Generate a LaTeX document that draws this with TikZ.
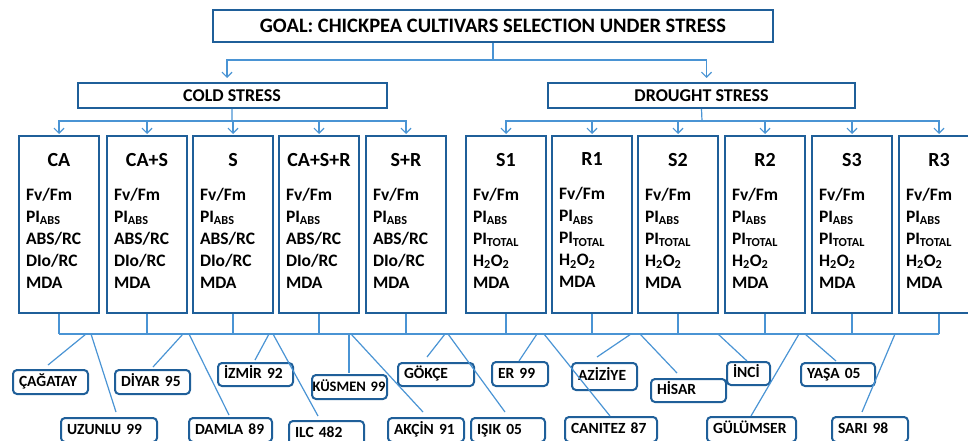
\documentclass[tikz,border=0pt]{standalone}
\usepackage{fontspec}
\setmainfont{Carlito}
\usetikzlibrary{arrows.meta,positioning}
\definecolor{boxblue}{HTML}{1F5F99}
\definecolor{linkblue}{HTML}{4A94D4}
\newcommand{\treatname}[1]{{\fontsize{20}{24}\selectfont\makebox[\linewidth]{#1}}\\[12pt]}
\newcommand{\coldtraits}{Fv/Fm\\ PI\textsubscript{ABS}\\ ABS/RC\\ DIo/RC\\ MDA}
\newcommand{\droughttraits}{Fv/Fm\\ PI\textsubscript{ABS}\\ PI\textsubscript{TOTAL}\\ H\textsubscript{2}O\textsubscript{2}\\ MDA}

\begin{document}
\begin{tikzpicture}[x=1pt,y=-1pt,font=\bfseries,>={Straight Barb[length=5pt,width=10pt]}]
        \tikzset{block/.style={draw=boxblue, line width=2pt, fill=white, rectangle, align=center, inner sep=0pt},
        treat/.style={block, anchor=north, text width=66pt, inner xsep=7pt, minimum height=177pt, align=left,
            text depth=130pt, font=\bfseries\fontsize{17.5}{22}\selectfont},
        cultivar/.style={draw=boxblue, line width=2pt, fill=white, rounded corners=4pt, anchor=north west,
            align=left, inner xsep=6pt, inner ysep=0pt, text height=11pt, text depth=3pt, minimum height=24pt,
            font=\bfseries\fontsize{15.5}{18}\selectfont},
        link/.style={draw=linkblue, line width=1.2pt},
        }
        \clip (0,0) rectangle (968,441);

        \node [block, minimum width=560pt, minimum height=32pt, font=\bfseries\fontsize{20.5}{24}\selectfont] (goal) at (493,26) {GOAL: CHICKPEA CULTIVARS SELECTION UNDER STRESS};
        \node [block, minimum width=309pt, minimum height=25pt, font=\bfseries\fontsize{18}{22}\selectfont] (cold) at (232,95.5) {COLD STRESS};
        \node [block, minimum width=307pt, minimum height=25pt, font=\bfseries\fontsize{18}{22}\selectfont] (drought) at (701.5,95.5) {DROUGHT STRESS};

%% cold stress treatments
        \node [treat] (CA) at (59,135) {\treatname{CA}\coldtraits};
        \node [treat] (CAS) at (147,135) {\treatname{CA+S}\coldtraits};
        \node [treat] (S) at (233,135) {\treatname{S}\coldtraits};
        \node [treat] (CASR) at (319,135) {\treatname{CA+S+R}\coldtraits};
        \node [treat] (SR) at (406,135) {\treatname{S+R}\coldtraits};
%% drought stress treatments
        \node [treat] (S1) at (506,135) {\treatname{S1}\droughttraits};
        \node [treat] (R1) at (592,135) {\treatname{R1}\droughttraits};
        \node [treat] (S2) at (678,135) {\treatname{S2}\droughttraits};
        \node [treat] (R2) at (765,135) {\treatname{R2}\droughttraits};
        \node [treat] (S3) at (852,135) {\treatname{S3}\droughttraits};
        \node [treat] (R3) at (939,135) {\treatname{R3}\droughttraits};

%% cultivars
        \node [cultivar, text width=63pt] (cagatay) at (12,369) {ÇAĞATAY};
        \node [cultivar, text width=84pt] (uzunlu) at (60,417) {UZUNLU 99};
        \node [cultivar, text width=63pt] (diyar) at (114,369) {DİYAR 95};
        \node [cultivar, text width=71pt] (damla) at (188,417) {DAMLA 89};
        \node [cultivar, text width=63pt, minimum height=23pt] (izmir) at (217,362) {İZMİR 92};
        \node [cultivar, text width=63pt] (ilc) at (288,420) {ILC 482};
        \node [cultivar, text width=74pt, inner xsep=0.5pt, font=\bfseries\fontsize{14.5}{18}\selectfont] (kusmen) at (311,374) {KÜSMEN 99};
        \node [cultivar, text width=64pt, minimum height=23pt] (gokce) at (397,362) {GÖKÇE};
        \node [cultivar, text width=64pt] (akcin) at (387,417) {AKÇİN 91};
        \node [cultivar, text width=62pt] (isik) at (470,417) {IŞIK 05};
        \node [cultivar, text width=44pt] (er) at (491,361) {ER 99};
        \node [cultivar, text width=53pt, minimum height=27pt] (aziziye) at (571,362) {AZİZİYE};
        \node [cultivar, text width=63pt, minimum height=23pt] (hisar) at (650,378) {HİSAR};
        \node [cultivar, text width=31pt, minimum height=23pt] (inci) at (726,361) {İNCİ};
        \node [cultivar, text width=62pt, minimum height=23pt] (yasa) at (800,362) {YAŞA 05};
        \node [cultivar, text width=80pt, minimum height=25pt] (canitez) at (564,416) {CANITEZ 87};
        \node [cultivar, text width=77pt, minimum height=25pt] (gulumser) at (706,416) {GÜLÜMSER};
        \node [cultivar, text width=64pt, minimum height=25pt] (sari) at (831,416) {SARI 98};

        \coordinate (gsplit) at (493,60);
        \coordinate (csplit) at (232,121);
        \coordinate (dsplit) at (702,121);
        \coordinate (busy) at (0,334);

%% paths
        \path[link] (goal.south) -- (gsplit);
        \path[link,->,shorten >=4pt] (gsplit) -| ([xshift=-5]cold.north);
        \path[link,->,shorten >=4pt] (gsplit) -| ([xshift=5]drought.north);
        \path[link] (cold.south) -- (csplit) (drought.south) -- (dsplit);
        \foreach \t in {CA,CAS,S,CASR,SR}
            \path[link,->,shorten >=1pt] (csplit) -| (\t.north);
        \foreach \t in {S1,R1,S2,R2,S3,R3}
            \path[link,->,shorten >=1pt] (dsplit) -| (\t.north);
        \foreach \t in {CA,CAS,S,CASR,SR,S1,R1,S2,R2,S3,R3}
            \path[link] (\t.south) -- (\t.south |- busy);
        \path[link] (CA.south |- busy) -- (R3.south |- busy);
        \foreach \x/\c/\dx/\dy in {86/cagatay/36/-4, 91/uzunlu/56/-5, 183/diyar/39/-2, 189/damla/41/-2,
                269/izmir/38/-2, 273/ilc/30/-4, 349/kusmen/38/-1, 351/akcin/36/-5, 445/gokce/30/-5,
                448/isik/35/-5, 537/er/28/0, 544/canitez/46/0, 631/aziziye/26/-5, 640/hisar/27/-5,
                718/inci/21/0, 799/gulumser/45/0, 805/yasa/36/-1, 895/sari/31/-4}
            {
            \coordinate (tap-\c) at (\x,334);
            \path[link] (tap-\c) -- ([shift={(\dx,\dy)}]\c.north west);
            }
\end{tikzpicture}
\end{document}
